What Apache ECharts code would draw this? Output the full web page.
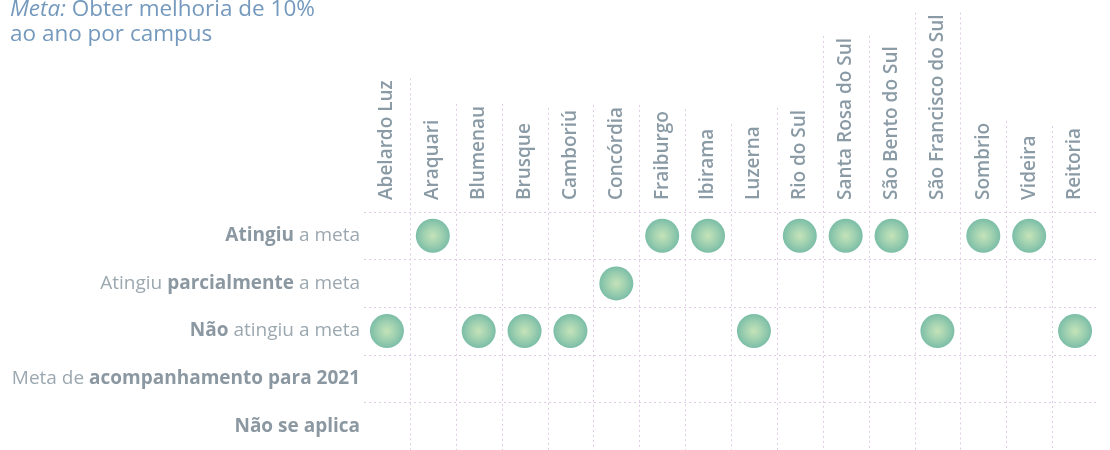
<!DOCTYPE html>
<html>
<head>
<meta charset="utf-8">
<script src="https://cdn.jsdelivr.net/npm/echarts@6/dist/echarts.min.js"></script>
<style>
  html, body { margin: 0; padding: 0; background: #fff; }
  #chart { width: 1110px; height: 450px; }
</style>
</head>
<body>
<div id="chart"></div>
<script>
const campuses = ['Abelardo Luz', 'Araquari', 'Blumenau', 'Brusque', 'Camboriú', 'Concórdia', 'Fraiburgo', 'Ibirama',
  'Luzerna', 'Rio do Sul', 'Santa Rosa do Sul', 'São Bento do Sul', 'São Francisco do Sul', 'Sombrio', 'Videira', 'Reitoria'];
const rowLabels = [
  '{b|Atingiu} a meta',
  'Atingiu {b|parcialmente} a meta',
  '{b|Não} atingiu a meta',
  'Meta de {b|acompanhamento para 2021}',
  '{b|Não se aplica}'
];
// row index for each campus
const statusByCampus = [2, 0, 2, 2, 2, 1, 0, 0, 2, 0, 0, 0, 2, 0, 0, 2];

const labelFont = '600 19px "Open Sans"';
const labelMargin = 12;
const gridLine = { color: '#dfcbe5', width: 1, type: [2, 3] };

// measure the campus labels so the column lines can reach up past them
const ctx = document.createElement('canvas').getContext('2d');
ctx.font = labelFont;
const labelWidths = campuses.map(c => ctx.measureText(c).width);

const points = campuses.map((c, i) => [i, statusByCampus[i]]);
const boundaries = campuses.slice(1).map((c, i) => [i + 1, 0]);

const chart = echarts.init(document.getElementById('chart'));
chart.setOption({
  backgroundColor: '#fff',
  animation: false,
  graphic: [{
    type: 'text',
    left: 10,
    top: -3,
    style: {
      text: '{i|Meta:} Obter melhoria de 10%\nao ano por campus',
      fill: '#7499bd',
      font: '22.5px "Open Sans"',
      lineHeight: 25,
      rich: {
        i: { fontStyle: 'italic', fontSize: 22.5, fontFamily: 'Open Sans', fill: '#7499bd', lineHeight: 25 }
      }
    }
  }],
  grid: { left: 364, right: 12, top: 212, bottom: 0 },
  xAxis: {
    type: 'category',
    position: 'top',
    data: campuses,
    axisLine: { show: false },
    axisTick: { show: false },
    splitLine: { show: false },
    axisLabel: {
      interval: 0,
      rotate: -90,
      margin: labelMargin,
      color: '#8a9ba6',
      fontFamily: 'Open Sans',
      fontWeight: 600,
      fontSize: 19
    }
  },
  yAxis: {
    type: 'category',
    inverse: true,
    data: rowLabels,
    axisLine: { show: false },
    axisTick: { show: false },
    splitLine: { show: true, showMinLine: true, showMaxLine: false, lineStyle: gridLine },
    axisLabel: {
      margin: 4,
      color: '#9ca8b0',
      fontFamily: 'Open Sans',
      fontSize: 19,
      rich: {
        b: { fontWeight: 'bold', color: '#8b98a1', fontFamily: 'Open Sans', fontSize: 19 }
      }
    }
  },
  series: [
    {
      type: 'custom',
      clip: false,
      z: 1,
      silent: true,
      data: boundaries,
      renderItem: function (params, api) {
        const i = api.value(0);
        const band = api.size([1, 0])[0];
        const x = Math.round(api.coord([i, 0])[0] - band / 2) + 0.5;
        const top = params.coordSys.y;
        const bottom = top + params.coordSys.height;
        const w = Math.max(labelWidths[i - 1], labelWidths[i]);
        const y1 = top - labelMargin - w - 2;
        return {
          type: 'line',
          shape: { x1: x, y1: y1, x2: x, y2: bottom },
          style: { stroke: gridLine.color, lineWidth: 1, lineDash: gridLine.type }
        };
      }
    },
    {
      type: 'scatter',
      z: 3,
      symbolSize: 34,
      data: points,
      itemStyle: {
        color: {
          type: 'radial', x: 0.5, y: 0.5, r: 0.5,
          colorStops: [
            { offset: 0, color: '#b6dca7' },
            { offset: 0.55, color: '#86c49c' },
            { offset: 1, color: '#5aad91' }
          ]
        }
      }
    }
  ]
});
</script>
</body>
</html>
